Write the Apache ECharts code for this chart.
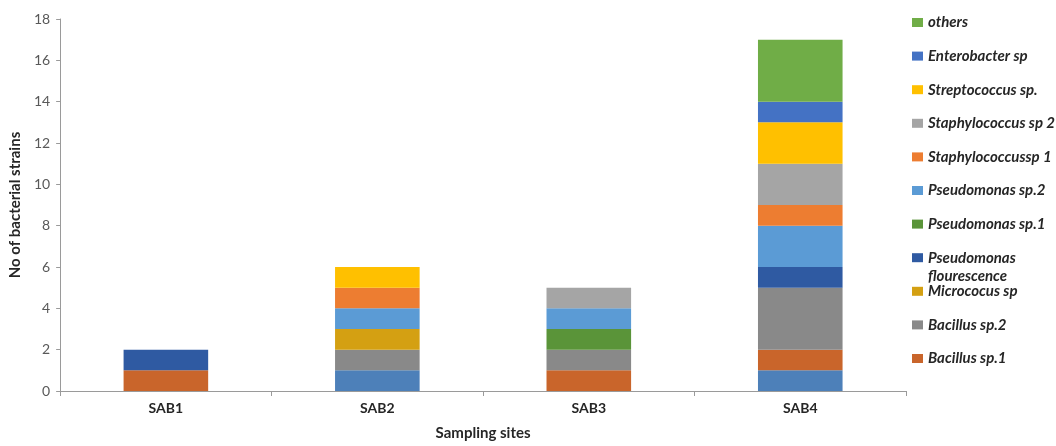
<!DOCTYPE html>
<html>
<head>
<meta charset="utf-8">
<script src="https://cdn.jsdelivr.net/npm/echarts@6/dist/echarts.min.js"></script>
<style>html,body{margin:0;padding:0;background:#fff}#c{width:1056px;height:446px}</style>
</head>
<body>
<div id="c"></div>
<script>
const categories = ['SAB1', 'SAB2', 'SAB3', 'SAB4'];
const yTicks = [0, 2, 4, 6, 8, 10, 12, 14, 16, 18];

// stacking order bottom -> top
const unlisted = [0, 1, 0, 1];
const bacillus1 = [1, 0, 1, 1];
const bacillus2 = [0, 1, 1, 3];
const micrococus = [0, 1, 0, 0];
const pseudoFlour = [1, 0, 0, 1];
const pseudo1 = [0, 0, 1, 0];
const pseudo2 = [0, 1, 1, 2];
const staph1 = [0, 1, 0, 1];
const staph2 = [0, 0, 1, 2];
const strepto = [0, 1, 0, 2];
const entero = [0, 0, 0, 1];
const others = [0, 0, 0, 3];

const seriesDefs = [
  ['(unlabelled)', unlisted, '#4d80b9'],
  ['Bacillus sp.1', bacillus1, '#c9652b'],
  ['Bacillus sp.2', bacillus2, '#898989'],
  ['Micrococus sp', micrococus, '#d4a012'],
  ['Pseudomonas flourescence', pseudoFlour, '#2f5aa2'],
  ['Pseudomonas sp.1', pseudo1, '#5a9439'],
  ['Pseudomonas sp.2', pseudo2, '#5b9bd5'],
  ['Staphylococcussp 1', staph1, '#ed7d31'],
  ['Staphylococcus sp 2', staph2, '#a5a5a5'],
  ['Streptococcus sp.', strepto, '#ffc000'],
  ['Enterobacter sp', entero, '#4472c4'],
  ['others', others, '#70ad47']
];

const legendNames = seriesDefs.slice(1).map(d => d[0]).reverse();

const chart = echarts.init(document.getElementById('c'), null, {renderer: 'canvas'});
chart.setOption({
  animation: false,
  backgroundColor: '#fff',
  grid: {left: 60, right: 150, top: 19, bottom: 50, containLabel: false},
  legend: {
    data: legendNames,
    orient: 'vertical',
    left: 907,
    top: 9,
    itemWidth: 11,
    itemHeight: 9,
    itemGap: 16.6,
    icon: 'rect',
    selectedMode: false,
    formatter: n => n === 'Pseudomonas flourescence' ? 'Pseudomonas' : n,
    textStyle: {fontFamily: 'Lato', fontStyle: 'italic', fontWeight: 'bold', fontSize: 15, color: '#262626', lineHeight: 17}
  },
  graphic: [{
    type: 'text', left: 928, top: 269,
    style: {text: 'flourescence', font: 'italic bold 15px Lato', fill: '#262626'}
  }],
  xAxis: {
    type: 'category',
    data: categories,
    name: 'Sampling sites',
    nameLocation: 'middle',
    nameGap: 35,
    nameTextStyle: {fontFamily: 'Lato', fontWeight: 'bold', fontSize: 15, color: '#262626'},
    axisLine: {lineStyle: {color: '#9a9a9a', width: 1}},
    axisTick: {show: true, length: 5, lineStyle: {color: '#9a9a9a'}},
    axisLabel: {fontFamily: 'Lato', fontWeight: 'bold', fontSize: 14, color: '#262626', margin: 10}
  },
  yAxis: {
    type: 'value',
    min: yTicks[0],
    max: yTicks[yTicks.length - 1],
    interval: 2,
    name: 'No of bacterial strains',
    nameLocation: 'middle',
    nameGap: 36,
    nameRotate: 90,
    nameTextStyle: {fontFamily: 'Lato', fontWeight: 'bold', fontSize: 15, color: '#262626'},
    splitLine: {show: false},
    axisLine: {show: true, lineStyle: {color: '#9a9a9a', width: 1}},
    axisTick: {show: true, length: 4, lineStyle: {color: '#9a9a9a'}},
    axisLabel: {fontFamily: 'Lato', fontSize: 14, color: '#595959', margin: 10}
  },
  series: seriesDefs.map(d => ({
    name: d[0],
    type: 'bar',
    stack: 'total',
    barWidth: '40%',
    data: d[1],
    itemStyle: {color: d[2]}
  }))
});
</script>
</body>
</html>
